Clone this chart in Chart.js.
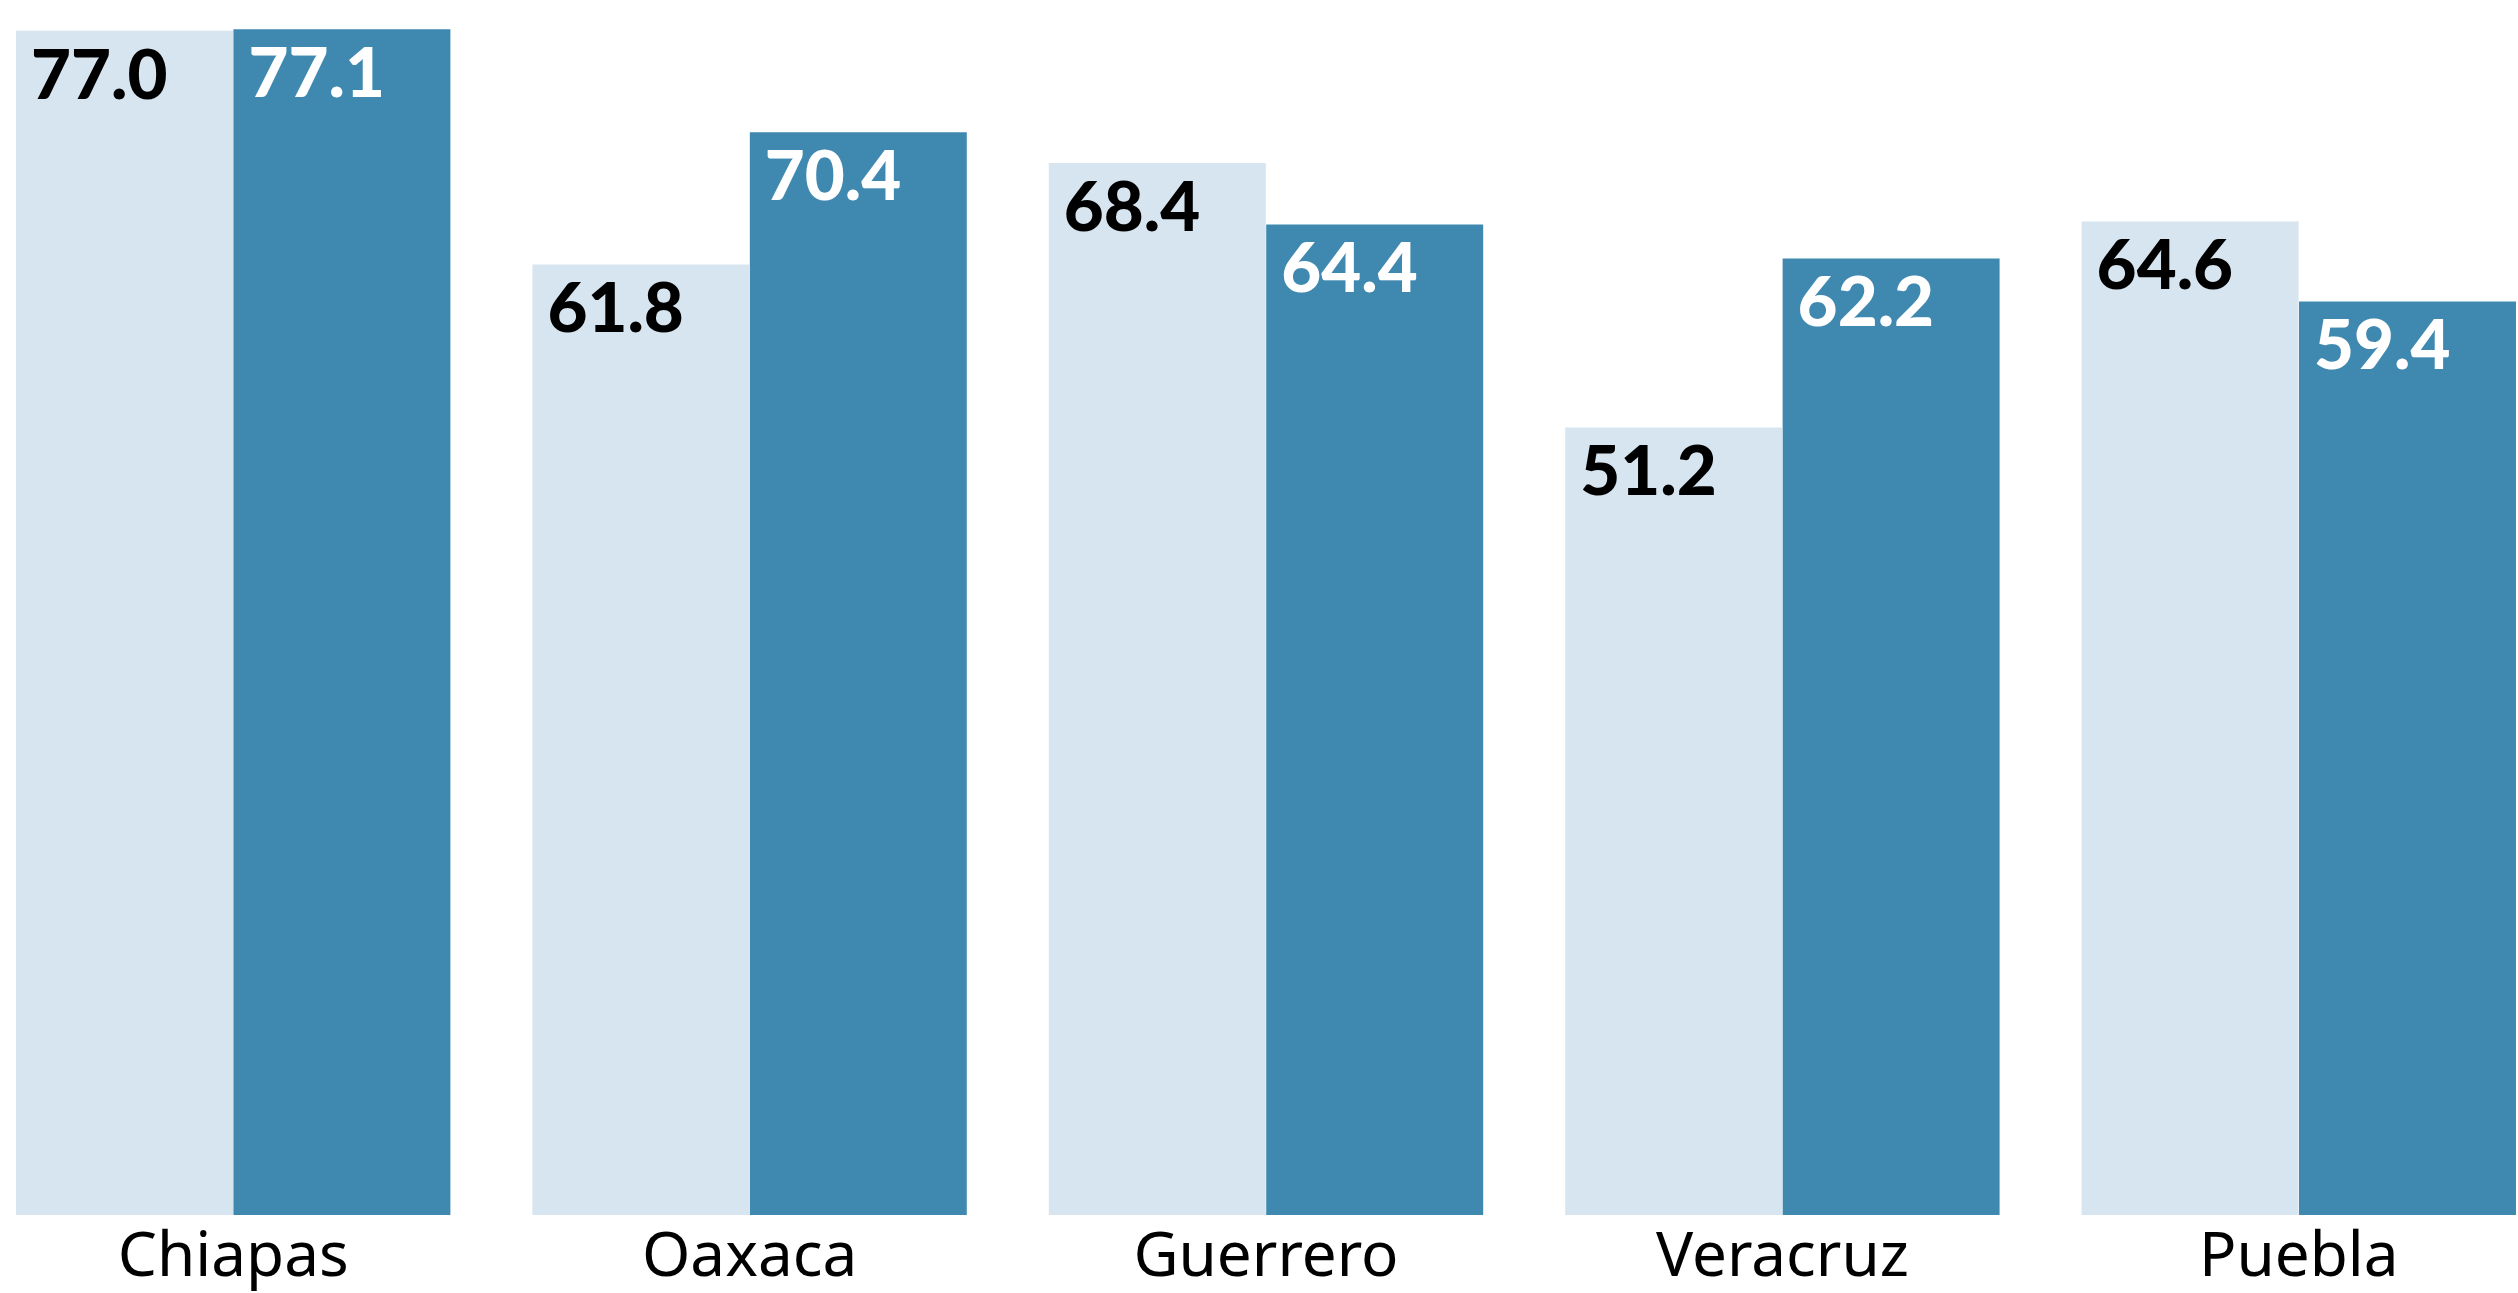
<!DOCTYPE html>
<html>
<head>
<meta charset="utf-8">
<script src="https://cdn.jsdelivr.net/npm/chart.js@4.4.1/dist/chart.umd.min.js"></script>
<style>
  html, body { margin: 0; padding: 0; background: #ffffff; overflow: hidden; }
  #wrap { position: absolute; left: -25px; top: 0; width: 2582px; height: 1293px; }
</style>
</head>
<body>
<div id="wrap"><canvas id="myChart"></canvas></div>
<script>
// datos del gráfico
const estados = ["Chiapas", "Oaxaca", "Guerrero", "Veracruz", "Puebla"];
const serieClara = [77.0, 61.8, 68.4, 51.2, 64.6];
const serieOscura = [77.1, 70.4, 64.4, 62.2, 59.4];

const colorClaro = "#d6e5ef";
const colorOscuro = "#3f89b0";

// etiquetas dentro de cada barra, arriba a la izquierda
const etiquetasBarras = {
  id: "etiquetasBarras",
  afterDatasetsDraw(chart) {
    const ctx = chart.ctx;
    ctx.save();
    ctx.font = "900 69px Lato";
    ctx.textAlign = "left";
    ctx.textBaseline = "top";
    chart.data.datasets.forEach((ds, i) => {
      const meta = chart.getDatasetMeta(i);
      meta.data.forEach((bar, j) => {
        const left = bar.x - bar.width / 2;
        ctx.fillStyle = i === 0 ? "#000000" : "#ffffff";
        ctx.fillText(ds.data[j].toFixed(1), left + 15, bar.y + 11);
      });
    });
    ctx.restore();
  },
};

const ctx = document.getElementById("myChart").getContext("2d");
const myChart = new Chart(ctx, {
  type: "bar",
  data: {
    labels: estados,
    datasets: [
      {
        data: serieClara,
        backgroundColor: colorClaro,
        categoryPercentage: 0.842,
        barPercentage: 0.998,
      },
      {
        data: serieOscura,
        backgroundColor: colorOscuro,
        categoryPercentage: 0.842,
        barPercentage: 0.998,
      },
    ],
  },
  options: {
    responsive: true,
    maintainAspectRatio: false,
    animation: false,
    layout: { padding: 0 },
    plugins: {
      legend: { display: false },
      tooltip: { enabled: false },
    },
    scales: {
      x: {
        grid: { display: false, drawTicks: false },
        border: { display: false },
        ticks: {
          color: "#000000",
          font: { family: "Noto Sans", size: 62 },
          padding: 6,
        },
        afterFit(scale) {
          scale.height = 78;
        },
      },
      y: {
        display: false,
        min: 0,
        max: 79,
      },
    },
  },
  plugins: [etiquetasBarras],
});
</script>
</body>
</html>
